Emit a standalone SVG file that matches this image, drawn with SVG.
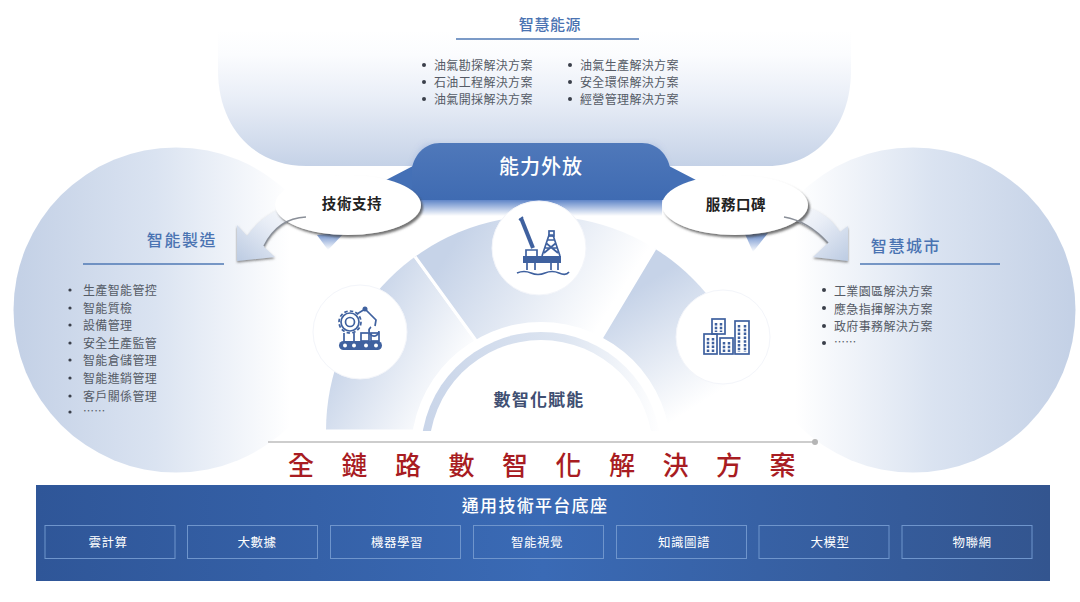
<svg xmlns="http://www.w3.org/2000/svg" width="1080" height="602" viewBox="0 0 1080 602">
<style>
text{font-family:"Noto Sans CJK TC","Noto Sans CJK SC",sans-serif}
.h{fill:#4a73b2;font-size:16px;font-weight:500;letter-spacing:1.6px;text-anchor:middle}
.u{stroke:#4f78b5;stroke-width:1.6;fill:none}
.l{fill:#555b66;font-size:12px;letter-spacing:.35px;dominant-baseline:central}
.b{fill:#3a3f4a}
.e{fill:#fff;filter:url(#sh)}
.et{fill:#222;font-size:14.5px;font-weight:700;text-anchor:middle;dominant-baseline:central;letter-spacing:.6px}
.c{fill:#fff;stroke:#f3f5fa;stroke-width:1}
.i{fill:none;stroke:#3f619f;stroke-width:1.7}
.f{fill:#3f619f}
.bx{fill:none;stroke:#6f95cc;stroke-width:1}
.bt{fill:#fff;font-size:12.5px;text-anchor:middle;dominant-baseline:central;letter-spacing:.5px}
.s{stroke:#fff;stroke-width:3}
.ar{fill:none;stroke:#8a8f98;stroke-width:1.6}
</style>
<defs>
<linearGradient id="gt" x1="0" y1="0" x2="0" y2="1"><stop offset="0" stop-color="#fff"/><stop offset=".18" stop-color="#fbfcfe"/><stop offset=".5" stop-color="#e9eef7"/><stop offset="1" stop-color="#c5d2e7"/></linearGradient>
<linearGradient id="gl" gradientUnits="userSpaceOnUse" x1="20" y1="0" x2="290" y2="0"><stop offset="0" stop-color="#c4d1e6"/><stop offset=".5" stop-color="#dae3f1"/><stop offset="1" stop-color="#fff"/></linearGradient>
<linearGradient id="gr" gradientUnits="userSpaceOnUse" x1="1070" y1="0" x2="795" y2="0"><stop offset="0" stop-color="#c4d1e6"/><stop offset=".5" stop-color="#dae3f1"/><stop offset="1" stop-color="#fff"/></linearGradient>
<linearGradient id="gb" x1="0" y1="0" x2="0" y2="1"><stop offset="0" stop-color="#4f78ba"/><stop offset="1" stop-color="#3f6bb2"/></linearGradient>
<linearGradient id="gf" x1="0" y1="0" x2="0" y2="1"><stop offset="0" stop-color="#5f85c8"/><stop offset="1" stop-color="#fff"/></linearGradient>
<linearGradient id="gs1" gradientUnits="userSpaceOnUse" x1="340" y1="340" x2="450" y2="400"><stop offset="0" stop-color="#c6d3e8"/><stop offset="1" stop-color="#fff"/></linearGradient>
<linearGradient id="gs2" gradientUnits="userSpaceOnUse" x1="450" y1="250" x2="590" y2="340"><stop offset="0" stop-color="#c6d3e8"/><stop offset="1" stop-color="#fff"/></linearGradient>
<linearGradient id="gs3" gradientUnits="userSpaceOnUse" x1="620" y1="300" x2="690" y2="410"><stop offset="0" stop-color="#c6d3e8"/><stop offset="1" stop-color="#fff"/></linearGradient>
<linearGradient id="gring" x1="0" y1="0" x2="1" y2="0"><stop offset="0" stop-color="#c9d5e9"/><stop offset=".6" stop-color="#dde5f1"/><stop offset="1" stop-color="#fff"/></linearGradient>
<linearGradient id="gp" x1="0" y1="0" x2="1" y2="0"><stop offset="0" stop-color="#2f5698"/><stop offset=".5" stop-color="#3a6ab5"/><stop offset="1" stop-color="#33558f"/></linearGradient>
<linearGradient id="ga" x1="0" y1="1" x2="1" y2="0"><stop offset="0" stop-color="#bccbe2"/><stop offset=".55" stop-color="#e8edf6"/><stop offset="1" stop-color="#fff"/></linearGradient>
<linearGradient id="ga2" x1="1" y1="1" x2="0" y2="0"><stop offset="0" stop-color="#bccbe2"/><stop offset=".55" stop-color="#e8edf6"/><stop offset="1" stop-color="#fff"/></linearGradient>
<filter id="sh" x="-10%" y="-20%" width="125%" height="150%"><feDropShadow dx="2" dy="2.5" stdDeviation="1.2" flood-color="#444" flood-opacity=".75"/></filter>
<filter id="gw" x="-20%" y="-40%" width="140%" height="180%"><feGaussianBlur stdDeviation="5"/></filter>
<filter id="as" x="-20%" y="-20%" width="140%" height="140%"><feDropShadow dx="0" dy="1.5" stdDeviation="1" flood-color="#555" flood-opacity=".7"/></filter>
<clipPath id="dome"><path d="M326 431A215 215 0 1 1 756 431Z"/></clipPath>
<clipPath id="floor"><rect x="300" y="200" width="480" height="231"/></clipPath>
</defs>
<rect width="1080" height="602" fill="#fff"/>

<g id="node-energy">
<path d="M218 30H851V70C851 128 815 166 768 166H306C255 166 218 128 218 70Z" fill="url(#gt)"/>
<text class="h" x="550" y="30" style="font-size:15px;letter-spacing:.6px">智慧能源</text>
<path class="u" d="M456 39H639"/>
<g class="b"><circle cx="424" cy="65" r="2"/><circle cx="424" cy="82" r="2"/><circle cx="424" cy="99" r="2"/><circle cx="570" cy="65" r="2"/><circle cx="570" cy="82" r="2"/><circle cx="570" cy="99" r="2"/></g>
<text class="l" x="434" y="64">油氣勘探解決方案</text>
<text class="l" x="434" y="81">石油工程解決方案</text>
<text class="l" x="434" y="98">油氣開採解決方案</text>
<text class="l" x="580" y="64">油氣生產解決方案</text>
<text class="l" x="580" y="81">安全環保解決方案</text>
<text class="l" x="580" y="98">經營管理解決方案</text>
</g>

<g id="node-manufacturing">
<circle cx="176" cy="310" r="162.500" fill="url(#gl)"/>
<text class="h" x="182" y="246">智能製造</text>
<path class="u" d="M83 264H224"/>
<g class="b"><circle cx="70" cy="290" r="1.600"/><circle cx="70" cy="308" r="1.600"/><circle cx="70" cy="325" r="1.600"/><circle cx="70" cy="343" r="1.600"/><circle cx="70" cy="360" r="1.600"/><circle cx="70" cy="378" r="1.600"/><circle cx="70" cy="396" r="1.600"/><circle cx="70" cy="412" r="1.600"/></g>
<text class="l" x="83" y="289">生產智能管控</text>
<text class="l" x="83" y="307">智能質檢</text>
<text class="l" x="83" y="324">設備管理</text>
<text class="l" x="83" y="342">安全生產監管</text>
<text class="l" x="83" y="359.500">智能倉儲管理</text>
<text class="l" x="83" y="377">智能進銷管理</text>
<text class="l" x="83" y="395">客戶關係管理</text>
<text class="l" x="83" y="410" style="font-size:11px">……</text>
</g>

<g id="node-city">
<circle cx="913" cy="310" r="162.500" fill="url(#gr)"/>
<text class="h" x="906" y="252">智慧城市</text>
<path class="u" d="M860 264H1000"/>
<g class="b"><circle cx="824" cy="290" r="2"/><circle cx="824" cy="308" r="2"/><circle cx="824" cy="326" r="2"/><circle cx="824" cy="343" r="2"/></g>
<text class="l" x="834" y="290">工業園區解決方案</text>
<text class="l" x="834" y="308">應急指揮解決方案</text>
<text class="l" x="834" y="325">政府事務解決方案</text>
<text class="l" x="834" y="341" style="font-size:11px">……</text>
</g>

<g id="node-dome">
<g clip-path="url(#dome)">
<path class="s" fill="url(#gs1)" d="M300 431V200H374L472 335L541 431Z"/>
<path class="s" fill="url(#gs2)" d="M374 200H684L602 337L541 431L472 335Z"/>
<path class="s" fill="url(#gs3)" d="M684 200H780V431H541L602 337Z"/>
</g>
<g clip-path="url(#floor)">
<circle cx="541" cy="452" r="130" fill="#fff"/>
<circle cx="541" cy="452" r="120" fill="url(#gring)"/>
<circle cx="541" cy="452" r="112" fill="#fff"/>
</g>
<text x="539" y="398.500" text-anchor="middle" dominant-baseline="central" fill="#3f4f72" font-size="17" font-weight="700" letter-spacing="1.200">數智化賦能</text>
</g>

<g id="node-capability">
<path d="M425 148H655L680 200H400Z" fill="#6f8fcf" opacity=".75" filter="url(#gw)"/>
<path d="M420 200H662V216H420Z" fill="url(#gf)"/>
<path d="M317 235L345 232L328 250Z" fill="url(#gf)"/>
<path d="M745 234L768 233L753 252Z" fill="url(#gf)"/>
<path d="M386 180L413 166L440 200H345Z" fill="#4470b6"/>
<path d="M696 180L669 166L640 200H735Z" fill="#4470b6"/>
<path d="M412 168C414 156 424 143 440 143H642C658 143 668 156 670 168V200H412Z" fill="url(#gb)"/>
<text x="541" y="165.500" text-anchor="middle" dominant-baseline="central" fill="#fff" font-size="20" font-weight="500" letter-spacing="1">能力外放</text>
</g>

<g id="connectors">
<path d="M237 225L247 236Q262 214 290 205L307 217Q278 218 264 247L275 257L237 261Z" fill="url(#ga)" filter="url(#as)"/>
<path d="M848 226V261L813 257L828 243Q808 222 783 217L795 205Q825 208 840 232Z" fill="url(#ga2)" filter="url(#as)"/>
<path d="M268 442H815" stroke="#bdbdbd" stroke-width="1.600" fill="none"/>
<circle cx="815" cy="442" r="3" fill="#b5b5b5"/>
</g>

<g id="node-tech">
<ellipse class="e" cx="348" cy="205" rx="73" ry="30"/>
<text class="et" x="352" y="202.500">技術支持</text>
</g>
<g id="connector-overlays">
<path class="ar" d="M306 217Q278 218 264 246"/>
</g>
<g id="node-service">
<ellipse class="e" cx="735" cy="205" rx="73" ry="30"/>
<text class="et" x="736" y="203.500">服務口碑</text>
</g>
<path class="ar" d="M784 217Q808 221 828 243"/>

<g id="node-icon-oil">
<circle class="c" cx="539" cy="248" r="47"/>
<path d="M521 218L533 248" stroke="#3f619f" stroke-width="4" fill="none"/>
<path d="M519 220L523 217" class="i"/>
<path class="i" d="M542 256L549 235H553L560 256M545 248H557M548 240H554M544 253L556 243M558 253L546 243"/>
<rect x="549" y="231" width="5" height="5" class="i"/>
<rect x="523" y="256" width="38" height="7" class="f"/>
<path class="i" d="M526 256V250H537V256M527 263V270M535 263V270M551 263V270M558 263V270"/>
<path class="i" stroke-width="1.200" d="M517 273Q524 270 531 273T545 273T559 273T569 272"/>
</g>

<g id="node-icon-robot">
<circle class="c" cx="360" cy="332" r="47"/>
<circle class="i" cx="350" cy="322" r="11" stroke-width="3" stroke-dasharray="3.500 2.200"/>
<circle class="i" cx="350" cy="322" r="9"/>
<circle class="i" cx="350" cy="322" r="4.500"/>
<path class="i" stroke-width="2" d="M357 314L365 309L376 320L375 326M371 327A5 5 0 1 0 379 331"/>
<circle class="f" cx="365" cy="309" r="2.500"/>
<path class="i" d="M344 333V341M354 333V341"/>
<rect class="i" x="361" y="333" width="8" height="8"/><rect class="i" x="371" y="333" width="8" height="8"/>
<rect class="f" x="339" y="341" width="43" height="9" rx="4.500"/>
<g fill="#fff"><circle cx="345" cy="345.500" r="2"/><circle cx="354" cy="345.500" r="2"/><circle cx="366" cy="345.500" r="2"/><circle cx="376" cy="345.500" r="2"/></g>
</g>

<g id="node-icon-city">
<circle class="c" cx="723" cy="337" r="47"/>
<g class="i" stroke-width="1.400">
<rect x="704" y="334" width="13" height="20"/><rect x="712" y="319" width="13" height="15"/><rect x="720" y="338" width="13" height="16"/><rect x="735" y="321" width="14" height="33"/>
</g>
<g stroke="#3f619f" stroke-width="2.500" stroke-dasharray="2.500 1.300" fill="none">
<path d="M708 338V352M713 338V352M716 323V332M721 323V332M724 342V352M729 342V352M739 325V352M745 325V352"/>
</g>
</g>

<text id="title-chain" x="288" y="463" dominant-baseline="central" fill="#a81c22" font-size="26" font-weight="500" letter-spacing="27.500">全鏈路數智化解決方案</text>

<g id="node-platform">
<rect x="36" y="485" width="1014" height="96" fill="url(#gp)"/>
<text x="535" y="504.500" fill="#fff" font-size="17" font-weight="500" letter-spacing="1.300" text-anchor="middle" dominant-baseline="central">通用技術平台底座</text>
</g>
<g id="node-cloud"><rect class="bx" x="45" y="525.500" width="130" height="33"/><text class="bt" x="108" y="541">雲計算</text></g>
<g id="node-bigdata"><rect class="bx" x="187.500" y="525.500" width="130" height="33"/><text class="bt" x="257" y="541">大數據</text></g>
<g id="node-ml"><rect class="bx" x="330.500" y="525.500" width="130" height="33"/><text class="bt" x="397" y="541">機器學習</text></g>
<g id="node-vision"><rect class="bx" x="473.500" y="525.500" width="130" height="33"/><text class="bt" x="537" y="541">智能視覺</text></g>
<g id="node-kg"><rect class="bx" x="616.500" y="525.500" width="130" height="33"/><text class="bt" x="684" y="541">知識圖譜</text></g>
<g id="node-llm"><rect class="bx" x="759" y="525.500" width="130" height="33"/><text class="bt" x="830" y="541">大模型</text></g>
<g id="node-iot"><rect class="bx" x="902" y="525.500" width="130" height="33"/><text class="bt" x="972" y="541">物聯網</text></g>
</svg>
